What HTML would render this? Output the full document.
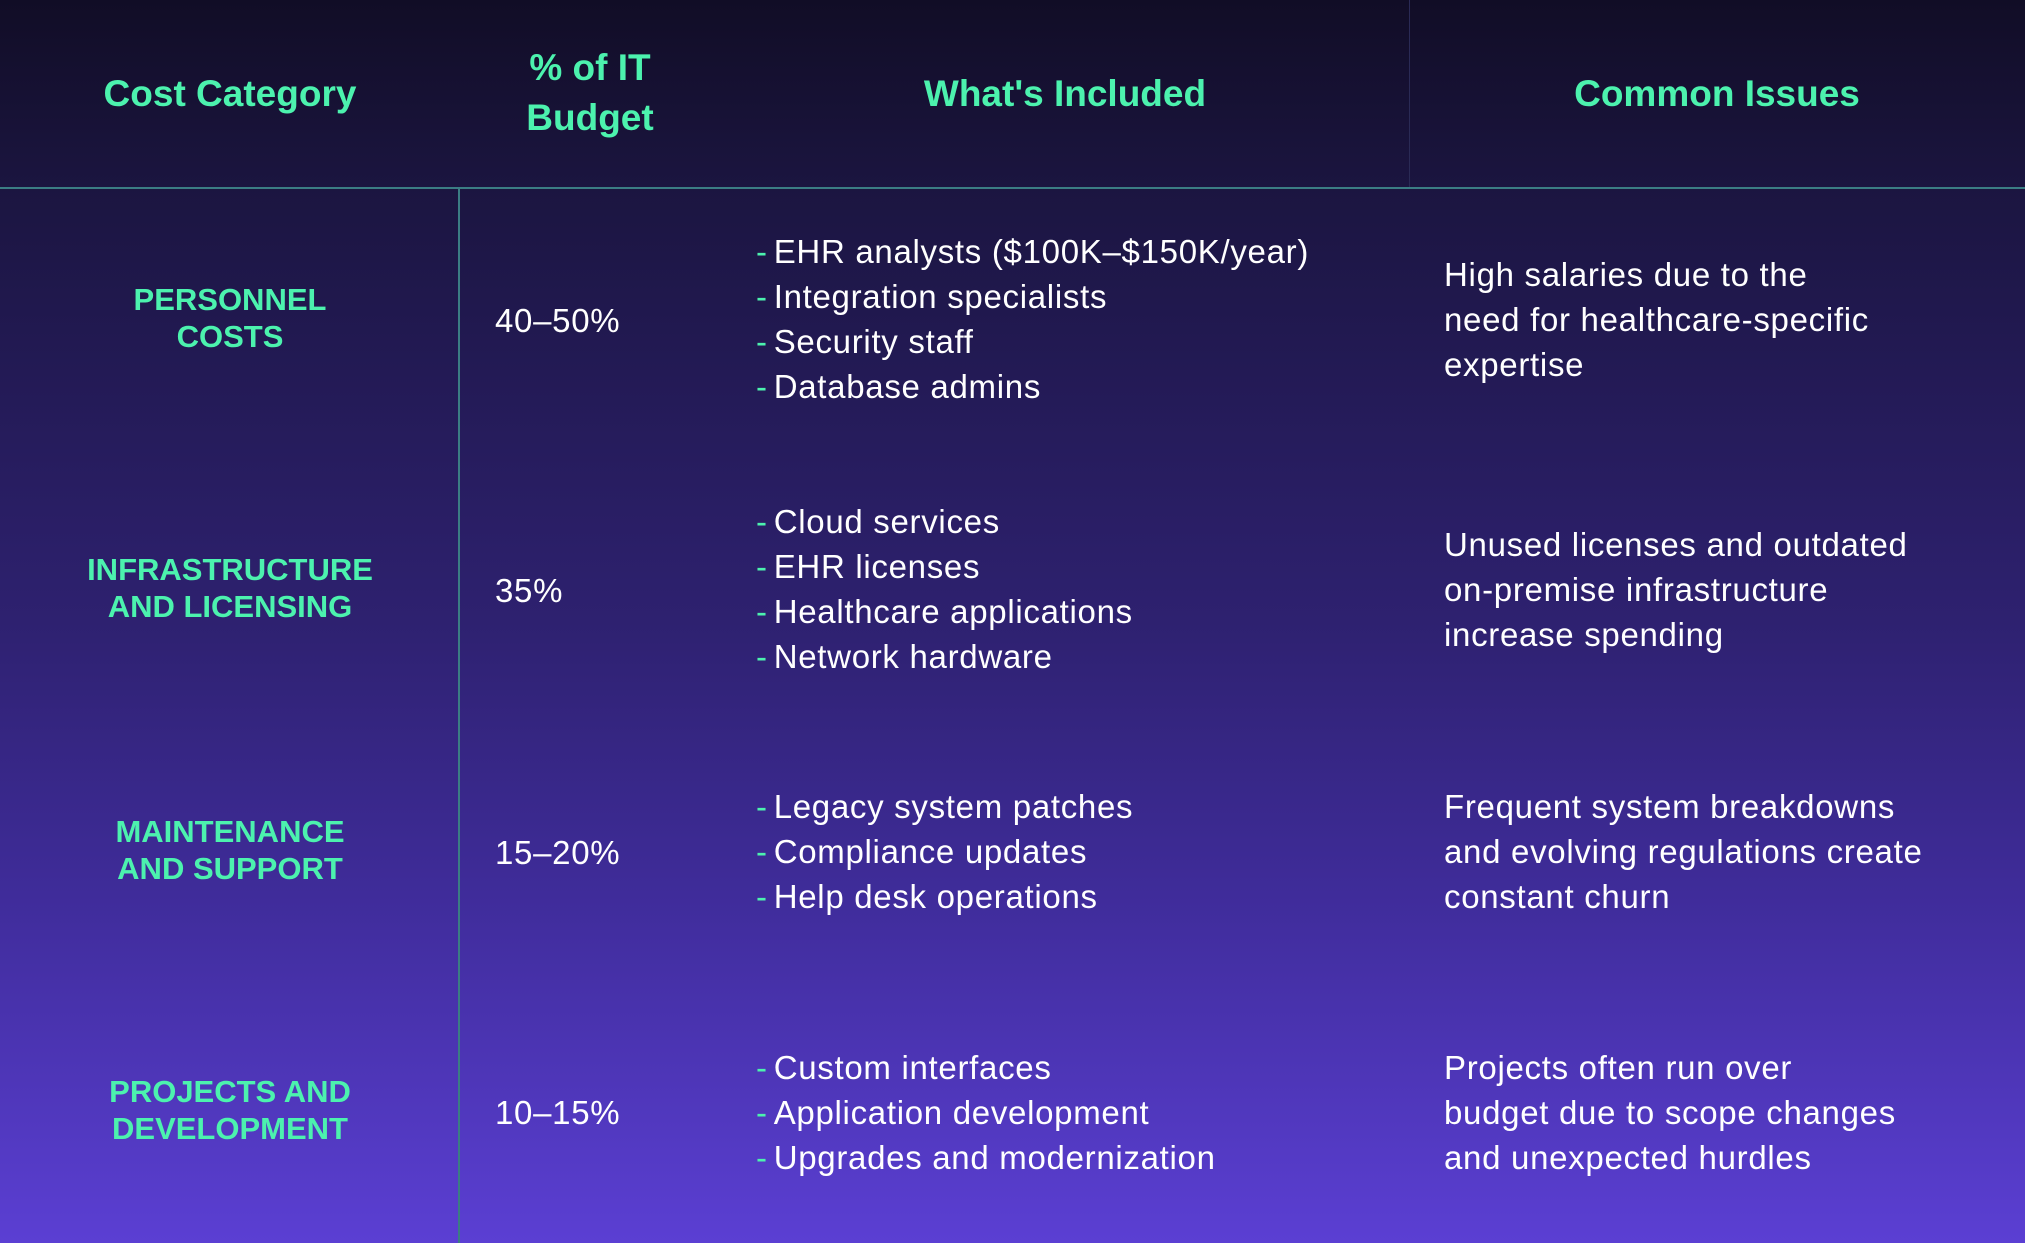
<!DOCTYPE html>
<html><head><meta charset="utf-8"><style>
html,body{margin:0;padding:0}
body{width:2025px;height:1243px;position:relative;overflow:hidden;font-family:"Liberation Sans",sans-serif;
background:linear-gradient(to bottom,#110d26 0%,#1b1540 15%,#231a55 30%,#2e2170 50%,#3f2c9a 72%,#5b3fd3 100%);}
.a{position:absolute}
.h{color:#4cf2ae;font-weight:bold;font-size:37px;text-align:center;line-height:50px}
.c{color:#4cf2ae;font-weight:bold;font-size:31px;text-align:center;line-height:37px;width:460px;left:0}
.t{color:#fff;font-size:33px;line-height:45px;letter-spacing:0.7px}
.b{color:#4cf2ae;margin-right:6px}
</style></head><body>
<div class="a" style="left:0;top:187px;width:2025px;height:2px;background:#3b7d84"></div>
<div class="a" style="left:458px;top:188px;width:2px;height:1055px;background:#3b7d84"></div>
<div class="a" style="left:1409px;top:0;width:1px;height:187px;background:#2a2a55"></div>

<div class="a h" style="left:0;width:460px;top:69px">Cost Category</div>
<div class="a h" style="left:460px;width:260px;top:43px">% of IT<br>Budget</div>
<div class="a h" style="left:780px;width:570px;top:69px">What's Included</div>
<div class="a h" style="left:1409px;width:616px;top:69px">Common Issues</div>

<div class="a c" style="top:281px">PERSONNEL<br>COSTS</div>
<div class="a t" style="left:495px;top:298px">40–50%</div>
<div class="a t" style="left:756px;top:229px"><span class="b">-</span>EHR analysts ($100K–$150K/year)<br><span class="b">-</span>Integration specialists<br><span class="b">-</span>Security staff<br><span class="b">-</span>Database admins</div>
<div class="a t" style="left:1444px;top:252px">High salaries due to the<br>need for healthcare-specific<br>expertise</div>

<div class="a c" style="top:551px">INFRASTRUCTURE<br>AND LICENSING</div>
<div class="a t" style="left:495px;top:568px">35%</div>
<div class="a t" style="left:756px;top:499px"><span class="b">-</span>Cloud services<br><span class="b">-</span>EHR licenses<br><span class="b">-</span>Healthcare applications<br><span class="b">-</span>Network hardware</div>
<div class="a t" style="left:1444px;top:522px">Unused licenses and outdated<br>on-premise infrastructure<br>increase spending</div>

<div class="a c" style="top:813px">MAINTENANCE<br>AND SUPPORT</div>
<div class="a t" style="left:495px;top:830px">15–20%</div>
<div class="a t" style="left:756px;top:784px"><span class="b">-</span>Legacy system patches<br><span class="b">-</span>Compliance updates<br><span class="b">-</span>Help desk operations</div>
<div class="a t" style="left:1444px;top:784px">Frequent system breakdowns<br>and evolving regulations create<br>constant churn</div>

<div class="a c" style="top:1073px">PROJECTS AND<br>DEVELOPMENT</div>
<div class="a t" style="left:495px;top:1090px">10–15%</div>
<div class="a t" style="left:756px;top:1045px"><span class="b">-</span>Custom interfaces<br><span class="b">-</span>Application development<br><span class="b">-</span>Upgrades and modernization</div>
<div class="a t" style="left:1444px;top:1045px">Projects often run over<br>budget due to scope changes<br>and unexpected hurdles</div>
</body></html>
